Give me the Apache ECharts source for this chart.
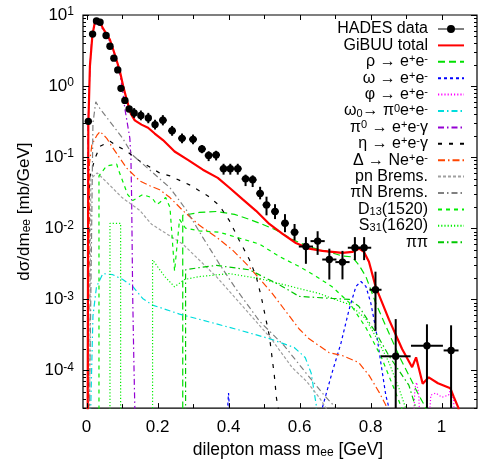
<!DOCTYPE html>
<html><head><meta charset="utf-8">
<script src="https://cdn.jsdelivr.net/npm/echarts@6/dist/echarts.min.js"></script>
<style>html,body{margin:0;padding:0;background:#fff}#c{width:478px;height:464px}</style>
</head><body><div id="c"></div>
<script>
// ---------- data (x: dilepton mass in GeV, y: dsigma/dm in mb/GeV) ----------
const BELOW = 1e-5; // value below the plotted range (curve drops to zero)
const hadesX   = [0.005,0.017,0.028,0.038,0.055,0.066,0.077,0.088,0.097,0.108,0.120,0.134,0.153,0.174,0.193,0.215,0.241,0.269,0.300,0.325,0.344,0.365,0.386,0.405,0.426,0.448,0.468,0.489,0.507,0.531,0.559,0.586,0.618,0.651,0.684,0.721,0.756,0.782,0.814,0.871,0.959,1.027];
const hadesY   = [0.319,5.39,8.26,7.92,5.16,3.63,2.47,1.69,0.929,0.629,0.475,0.418,0.387,0.356,0.287,0.330,0.235,0.184,0.178,0.130,0.1056,0.1076,0.0688,0.0688,0.0688,0.0495,0.048,0.0309,0.0213,0.0172,0.01173,0.0088,0.00553,0.00659,0.00363,0.00334,0.00532,0.00532,0.001364,0.000158,0.000222,0.000191];
const hadesYLo = [0.29,5.0,7.8,7.5,4.85,3.4,2.3,1.58,0.87,0.59,0.44,0.357,0.33,0.30,0.245,0.28,0.20,0.157,0.152,0.1137,0.088,0.090,0.0568,0.0568,0.0568,0.0392,0.038,0.0255,0.0152,0.01346,0.0088,0.00675,0.00316,0.00422,0.0019,0.00191,0.00356,0.00356,0.00036,0.0000295,0.0000295,0.0000295];
const hadesYHi = [0.35,5.8,8.7,8.4,5.5,3.85,2.65,1.8,0.99,0.67,0.51,0.49,0.453,0.42,0.336,0.39,0.275,0.215,0.208,0.148,0.121,0.123,0.0807,0.0807,0.0807,0.0568,0.0555,0.0383,0.0278,0.0218,0.0158,0.01148,0.0075,0.00908,0.00516,0.0048,0.0075,0.0075,0.00245,0.000527,0.000445,0.000431];
const hadesXErr= [0.005,0.005,0.005,0.005,0.005,0.005,0.005,0.005,0.005,0.005,0.005,0.005,0.005,0.005,0.005,0.011,0.011,0.011,0.011,0.011,0.011,0.011,0.011,0.011,0.011,0.011,0.011,0.011,0.011,0.011,0.011,0.011,0.02,0.02,0.02,0.02,0.02,0.02,0.017,0.042,0.045,0.021];

const gibuuTotal = [[0.003,BELOW],[0.005,0.281],[0.0095,1.91],[0.0166,5.28],[0.0236,8.0],[0.029,8.5],[0.0376,8.0],[0.046,6.53],[0.0657,4.5],[0.0797,2.78],[0.0938,1.63],[0.103,1.01],[0.1126,0.66],[0.1246,0.409],[0.1359,0.33],[0.1547,0.287],[0.1732,0.259],[0.192,0.215],[0.2153,0.174],[0.248,0.12],[0.2855,0.0917],[0.3276,0.0667],[0.3697,0.0511],[0.4026,0.0371],[0.44,0.0255],[0.4775,0.0176],[0.5149,0.0115],[0.5522,0.00833],[0.5898,0.0062],[0.6272,0.00516],[0.6645,0.0048],[0.7207,0.0045],[0.7487,0.00464],[0.7676,0.00516],[0.7816,0.00464],[0.7956,0.00337],[0.8144,0.00151],[0.8518,0.000522],[0.889,0.0002],[0.9172,0.000111],[0.9284,0.000153],[0.947,0.000065],[0.964,0.00008],[0.99,0.000066],[1.025,0.000056],[1.034,0.000043],[1.048,0.0000295],[1.05,BELOW]];
const rhoEE = [[0.271,BELOW],[0.271,0.0152],[0.318,0.0167],[0.366,0.0172],[0.417,0.0157],[0.459,0.0133],[0.495,0.0114],[0.535,0.0094],[0.579,0.0070],[0.627,0.00545],[0.683,0.00464],[0.720,0.00408],[0.748,0.00396],[0.767,0.00306],[0.787,0.00209],[0.815,0.00088],[0.843,0.000422],[0.880,0.000162],[0.908,0.0000853],[0.936,0.000045],[0.956,0.0000295],[0.958,BELOW]];
const omegaEE = [[0.392,BELOW],[0.400,0.000048],[0.408,BELOW],[0.664,BELOW],[0.664,0.0000295],[0.692,0.000094],[0.717,0.000245],[0.740,0.00073],[0.759,0.00152],[0.773,0.00178],[0.787,0.00152],[0.801,0.00088],[0.815,0.00038],[0.829,0.000129],[0.843,0.000045],[0.852,0.0000295],[0.853,BELOW]];
const phiEE = [[0.919,BELOW],[0.925,0.000056],[0.930,0.000068],[0.936,0.000045],[0.941,BELOW],[0.961,BELOW],[0.970,0.000045],[0.984,0.000048],[1.001,0.000042],[1.020,0.000045],[1.026,0.000056],[1.034,0.000038],[1.040,BELOW]];
const omegaDalitz = [[0.0095,BELOW],[0.018,0.00058],[0.028,0.0015],[0.046,0.0023],[0.074,0.00222],[0.102,0.0019],[0.130,0.00152],[0.158,0.00103],[0.186,0.00083],[0.262,0.00062],[0.346,0.00048],[0.430,0.00037],[0.515,0.00028],[0.585,0.00021],[0.616,0.000152],[0.633,0.000091],[0.647,0.0000327],[0.648,BELOW]];
const pi0Dalitz = [[0.003,BELOW],[0.004,0.25],[0.0095,1.8],[0.015,4.9],[0.024,7.5],[0.029,7.99],[0.038,7.5],[0.046,6.19],[0.066,4.22],[0.080,2.61],[0.094,1.47],[0.102,0.852],[0.108,0.479],[0.116,0.278],[0.122,0.184],[0.125,0.097],[0.127,0.027],[0.130,0.0011],[0.133,0.00016],[0.136,0.0000295],[0.137,BELOW]];
const etaDalitz = [[0.004,BELOW],[0.008,0.05],[0.024,0.097],[0.038,0.142],[0.066,0.167],[0.088,0.142],[0.113,0.121],[0.150,0.088],[0.206,0.060],[0.235,0.0545],[0.290,0.0408],[0.341,0.0287],[0.374,0.0209],[0.402,0.0129],[0.430,0.0068],[0.459,0.0036],[0.478,0.00209],[0.492,0.0011],[0.515,0.000306],[0.529,0.000085],[0.535,0.000041],[0.540,0.0000295],[0.541,BELOW]];
const deltaDalitz = [[0.004,BELOW],[0.008,0.08],[0.015,0.15],[0.029,0.202],[0.038,0.23],[0.057,0.184],[0.071,0.142],[0.113,0.0703],[0.150,0.0464],[0.178,0.0396],[0.206,0.0348],[0.235,0.027],[0.271,0.0178],[0.318,0.011],[0.366,0.0075],[0.411,0.00495],[0.450,0.00316],[0.487,0.00196],[0.523,0.00121],[0.599,0.000383],[0.627,0.000278],[0.683,0.000178],[0.720,0.000162],[0.767,0.000129],[0.796,0.000085],[0.824,0.0000495],[0.843,0.0000327],[0.85,BELOW]];
const pnBrems = [[0.008,BELOW],[0.012,0.05],[0.03,0.06],[0.066,0.04],[0.10,0.027],[0.150,0.0178],[0.183,0.0114],[0.271,0.006],[0.365,0.0021],[0.45,0.0007],[0.52,0.00028],[0.579,0.00011],[0.62,0.00007],[0.655,0.000042],[0.675,0.0000295],[0.677,BELOW]];
const piNBrems = [[0.007,BELOW],[0.018,0.3],[0.026,0.60],[0.038,0.479],[0.066,0.316],[0.102,0.184],[0.130,0.1067],[0.178,0.066],[0.235,0.0371],[0.282,0.0178],[0.327,0.0075],[0.374,0.00316],[0.422,0.00138],[0.487,0.000495],[0.557,0.000222],[0.619,0.000091],[0.669,0.000045],[0.703,0.0000295],[0.705,BELOW]];
const d13 = [[0.035,BELOW],[0.035,0.0545],[0.056,0.075],[0.085,0.080],[0.088,0.0703],[0.116,0.0297],[0.130,0.0245],[0.158,0.0297],[0.184,0.027],[0.198,0.0215],[0.206,0.023],[0.223,0.027],[0.235,0.0196],[0.248,0.0025],[0.262,0.0133],[0.279,0.0100],[0.318,0.0092],[0.374,0.0088],[0.487,0.0060],[0.543,0.0040],[0.599,0.0029],[0.647,0.0021],[0.692,0.0015],[0.740,0.0009],[0.787,0.0004],[0.829,0.00016],[0.87,0.00005],[0.888,0.0000295],[0.89,BELOW]];
const s31 = [[0.066,BELOW],[0.066,0.0117],[0.096,0.0117],[0.096,BELOW],[0.186,BELOW],[0.186,0.0036],[0.22,0.0021],[0.248,0.0015],[0.276,0.0019],[0.318,0.00209],[0.402,0.0023],[0.487,0.00196],[0.599,0.00142],[0.655,0.00121],[0.692,0.00103],[0.740,0.00085],[0.787,0.00053],[0.824,0.000245],[0.852,0.000129],[0.880,0.000056],[0.899,0.0000295],[0.902,BELOW]];
const pipi = [[0.279,BELOW],[0.279,0.0026],[0.318,0.0028],[0.366,0.0030],[0.459,0.0026],[0.543,0.0016],[0.599,0.0011],[0.692,0.00103],[0.740,0.001],[0.767,0.0008],[0.815,0.00034],[0.852,0.00016],[0.908,0.000062],[0.928,0.0000295],[0.93,BELOW]];

const xTickValues = [0,0.1,0.2,0.3,0.4,0.5,0.6,0.7,0.8,0.9,1.0];
const yMajorTickValues = [1e-4,1e-3,1e-2,1e-1,1,10];
const yMinorTickValues = [3e-5,4e-5,5e-5,6e-5,7e-5,8e-5,9e-5,2e-4,3e-4,4e-4,5e-4,6e-4,7e-4,8e-4,9e-4,2e-3,3e-3,4e-3,5e-3,6e-3,7e-3,8e-3,9e-3,2e-2,3e-2,4e-2,5e-2,6e-2,7e-2,8e-2,9e-2,0.2,0.3,0.4,0.5,0.6,0.7,0.8,0.9,2,3,4,5,6,7,8,9];

// ---------- chart ----------
const FONT = 'Liberation Sans, Arial, Helvetica, sans-serif';
const chart = echarts.init(document.getElementById('c'), null, {renderer: 'canvas'});

function lineSeries(name, data, color, width, dash, z) {
  return {name, type: 'line', data, showSymbol: false, symbol: 'none', clip: true,
    lineStyle: {color, width, type: dash}, itemStyle: {color}, z: z || 2, animation: false};
}

function renderHades(params, api) {
  const x = api.value(0), y = api.value(1), lo = api.value(2), hi = api.value(3), xe = api.value(4);
  const c = api.coord([x, y]);
  const pLo = api.coord([x, lo]), pHi = api.coord([x, hi]);
  const pL = api.coord([x - xe, y]), pR = api.coord([x + xe, y]);
  return {type: 'group', children: [
    {type: 'line', shape: {x1: c[0], y1: pLo[1], x2: c[0], y2: pHi[1]}, style: {stroke: '#000', lineWidth: 2}},
    {type: 'line', shape: {x1: pL[0], y1: c[1], x2: pR[0], y2: c[1]}, style: {stroke: '#000', lineWidth: 2}},
    {type: 'circle', shape: {cx: c[0], cy: c[1], r: 3.7}, style: {fill: '#000'}}
  ]};
}
function renderXTick(params, api) {
  const cs = params.coordSys;
  const px = Math.round(api.coord([api.value(0), 1])[0]) + 0.5;
  const len = api.value(2);
  const b = cs.y + cs.height, t = cs.y;
  return {type: 'group', children: [
    {type: 'line', shape: {x1: px, y1: b, x2: px, y2: b - len}, style: {stroke: '#000', lineWidth: 1}},
    {type: 'line', shape: {x1: px, y1: t, x2: px, y2: t + len}, style: {stroke: '#000', lineWidth: 1}}
  ]};
}
function renderYTick(params, api) {
  const cs = params.coordSys;
  const py = Math.round(api.coord([0, api.value(1)])[1]) + 0.5;
  const len = api.value(2);
  const l = cs.x, r = cs.x + cs.width;
  return {type: 'group', children: [
    {type: 'line', shape: {x1: l, y1: py, x2: l + len, y2: py}, style: {stroke: '#000', lineWidth: 1}},
    {type: 'line', shape: {x1: r, y1: py, x2: r - len, y2: py}, style: {stroke: '#000', lineWidth: 1}}
  ]};
}

const legendRich = {
  n: {fontSize: 16, lineHeight: 16, fontFamily: FONT, color: '#000'},
  sp: {fontSize: 11, lineHeight: 5, fontFamily: FONT, color: '#000', verticalAlign: 'top'},
  sb: {fontSize: 11, lineHeight: 5, fontFamily: FONT, color: '#000', verticalAlign: 'bottom'}
};
const legendLabels = {
  'HADES data': '{n|HADES data}',
  'GiBUU total': '{n|GiBUU total}',
  'rho': '{n|ρ → e}{sp|+}{n|e}{sp|-}',
  'omega': '{n|ω → e}{sp|+}{n|e}{sp|-}',
  'phi': '{n|φ → e}{sp|+}{n|e}{sp|-}',
  'omegaDalitz': '{n|ω}{sb|0}{n|→ π}{sp|0}{n|e}{sp|+}{n|e}{sp|-}',
  'pi0Dalitz': '{n|π}{sp|0}{n| → e}{sp|+}{n|e}{sp|-}{n|γ}',
  'etaDalitz': '{n|η → e}{sp|+}{n|e}{sp|-}{n|γ}',
  'deltaDalitz': '{n|Δ → Ne}{sp|+}{n|e}{sp|-}',
  'pn': '{n|pn Brems.}',
  'piN': '{n|πN Brems.}',
  'D13': '{n|D}{sb|13}{n|(1520)}',
  'S31': '{n|S}{sb|31}{n|(1620)}',
  'pipi': '{n|ππ}'
};
const legendOrder = ['HADES data','GiBUU total','rho','omega','phi','omegaDalitz','pi0Dalitz','etaDalitz','deltaDalitz','pn','piN','D13','S31','pipi'];

const option = {
  animation: false,
  backgroundColor: '#fff',
  grid: {left: 83, top: 15, right: 1, bottom: 51, show: true, borderColor: '#000', borderWidth: 1.2, backgroundColor: 'transparent'},
  legend: {
    orient: 'vertical', align: 'right', right: 13, top: 21, padding: 0,
    itemWidth: 26, itemHeight: 8, itemGap: 0.4,
    itemStyle: {opacity: 0},
    textStyle: {fontSize: 16, lineHeight: 16, fontFamily: FONT, color: '#000', padding: [0, 5, 0, 0], rich: legendRich},
    formatter: name => legendLabels[name] || name,
    data: legendOrder.map(n => n === 'HADES data'
      ? {name: n, icon: 'path://M0,3.4 L26,3.4 L26,4.6 L0,4.6 Z M13,0 A4,4 0 1,1 12.99,0 Z', itemStyle: {opacity: 1, color: '#000'}}
      : {name: n}),
    selectedMode: false
  },
  xAxis: {
    type: 'value', min: -0.01, max: 1.1, minInterval: 0.2, maxInterval: 0.2, splitNumber: 5,
    axisLine: {show: false}, axisTick: {show: false}, splitLine: {show: false},
    axisLabel: {color: '#000', fontSize: 17, fontFamily: FONT, margin: 11, showMinLabel: false, showMaxLabel: false,
      formatter: v => {
        const r = Math.round(v * 10) / 10;
        if (Math.abs(v - r) > 1e-6 || r < 0 || r > 1.0001) return '';
        if (Math.round(r * 10) % 2 !== 0) return '';
        return String(r);
      }},
    name: '{a|dilepton mass m}{s|ee}{a| [GeV]}', nameLocation: 'middle', nameGap: 32,
    nameTextStyle: {padding: [0, 0, 0, 16],
      rich: {a: {fontSize: 17.5, fontFamily: FONT, color: '#000', lineHeight: 18},
             s: {fontSize: 12, fontFamily: FONT, color: '#000', verticalAlign: 'bottom', lineHeight: 10}}}
  },
  yAxis: {
    type: 'log', logBase: 10, min: 2.95e-5, max: 10,
    axisLine: {show: false}, axisTick: {show: false}, splitLine: {show: false}, minorTick: {show: false},
    axisLabel: {color: '#000', margin: 9, showMinLabel: false,
      formatter: v => {
        const e = Math.log10(v);
        const r = Math.round(e);
        if (Math.abs(e - r) > 0.01) return '';
        return '{b|10}{s|' + r + '}';
      },
      rich: {b: {fontSize: 17, fontFamily: FONT, color: '#000', lineHeight: 18},
             s: {fontSize: 12, fontFamily: FONT, color: '#000', verticalAlign: 'top', lineHeight: 7}}},
    name: '{a|dσ/dm}{s|ee}{a| [mb/GeV]}', nameLocation: 'middle', nameRotate: 90, nameGap: 50,
    nameTextStyle: {
      rich: {a: {fontSize: 17, fontFamily: FONT, color: '#000', lineHeight: 18},
             s: {fontSize: 12, fontFamily: FONT, color: '#000', verticalAlign: 'bottom', lineHeight: 10}}}
  },
  series: [
    {name: 'xticks', type: 'custom', renderItem: renderXTick, silent: true, z: 10,
     data: xTickValues.map(v => [v, 1, Math.abs(Math.round(v * 10) % 2) === 0 ? 5 : 4]), encode: {x: 0, y: 1}},
    {name: 'yticks', type: 'custom', renderItem: renderYTick, silent: true, z: 10,
     data: yMajorTickValues.map(v => [0, v, 6]).concat(yMinorTickValues.map(v => [0, v, 3])), encode: {x: 0, y: 1}},
    lineSeries('rho', rhoEE, '#00e000', 1.2, [7, 4]),
    lineSeries('omega', omegaEE, '#0000ff', 1.2, [3, 3]),
    lineSeries('phi', phiEE, '#ff00ff', 1.2, [1.2, 2]),
    lineSeries('omegaDalitz', omegaDalitz, '#00dddd', 1.2, [6, 3, 1.5, 3]),
    lineSeries('pi0Dalitz', pi0Dalitz, '#9400d3', 1.2, [6, 3, 1.5, 3]),
    lineSeries('etaDalitz', etaDalitz, '#000000', 1.2, [4, 7]),
    lineSeries('deltaDalitz', deltaDalitz, '#ff4500', 1.2, [7, 3, 1.5, 3]),
    lineSeries('pn', pnBrems, '#a0a0a0', 1.2, [3, 2]),
    lineSeries('piN', piNBrems, '#808080', 1.2, [6, 3, 1.5, 3]),
    lineSeries('D13', d13, '#00ee00', 1.2, [4, 4]),
    lineSeries('S31', s31, '#00ee00', 1.2, [1.2, 2]),
    lineSeries('pipi', pipi, '#00c800', 1.2, [6, 3, 1.5, 3]),
    lineSeries('GiBUU total', gibuuTotal, '#ff0000', 2.2, 'solid', 5),
    {name: 'HADES data', type: 'custom', renderItem: renderHades, clip: true, z: 6,
     itemStyle: {color: '#000'},
     data: hadesX.map((x, i) => [x, hadesY[i], hadesYLo[i], hadesYHi[i], hadesXErr[i]]),
     encode: {x: 0, y: 1}}
  ]
};
chart.setOption(option);
</script>
</body></html>
